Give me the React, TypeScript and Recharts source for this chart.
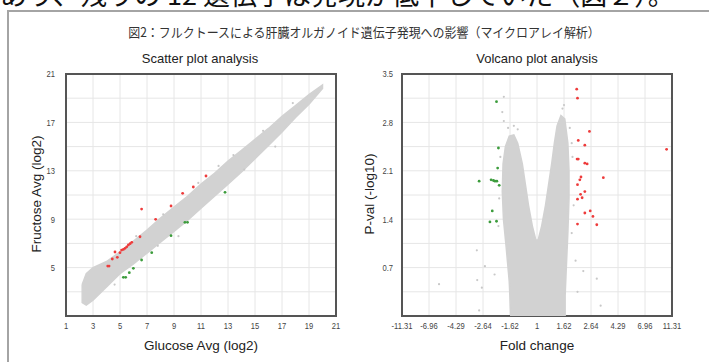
import React from "react";
import { ScatterChart, Scatter, XAxis, YAxis, CartesianGrid, ReferenceArea } from "recharts";

type Pt = { x: number; y: number };

// ---- scatter plot: Glucose Avg (log2) vs Fructose Avg (log2)
const scatterTicks = [1, 3, 5, 7, 9, 11, 13, 15, 17, 19, 21];
const scatterYLabels = [5, 9, 13, 17, 21];

// outline of the dense grey cloud (upper edge, then lower edge back)
const scatterCloud: Pt[] = [
  { x: 2.2, y: 3.6 }, { x: 2.5, y: 4.5 }, { x: 3, y: 5.0 }, { x: 3.6, y: 5.3 }, { x: 4, y: 5.5 },
  { x: 5, y: 6.3 }, { x: 6, y: 7.2 }, { x: 7, y: 8.1 }, { x: 8, y: 9.1 },
  { x: 9, y: 10.0 }, { x: 10, y: 10.9 }, { x: 11, y: 11.9 }, { x: 12, y: 12.8 },
  { x: 13, y: 13.8 }, { x: 14, y: 14.7 }, { x: 15, y: 15.6 }, { x: 16, y: 16.5 },
  { x: 17, y: 17.5 }, { x: 18, y: 18.4 }, { x: 19, y: 19.3 }, { x: 20, y: 20.1 },
  { x: 20, y: 19.8 }, { x: 19, y: 18.5 }, { x: 18, y: 17.4 }, { x: 17, y: 16.2 },
  { x: 16, y: 15.1 }, { x: 15, y: 14.0 }, { x: 14, y: 12.9 }, { x: 13, y: 11.9 },
  { x: 12, y: 10.9 }, { x: 11, y: 9.9 }, { x: 10, y: 8.9 }, { x: 9, y: 8.0 },
  { x: 8, y: 7.1 }, { x: 7, y: 6.2 }, { x: 6, y: 5.3 }, { x: 5, y: 4.5 },
  { x: 4, y: 3.4 }, { x: 3, y: 2.3 }, { x: 2.5, y: 1.9 }, { x: 2.2, y: 2.1 },
  { x: 2.2, y: 3.6 },
];
const scatterGray: Pt[] = [
  { x: 9.33, y: 7.6 }, { x: 16.5, y: 15.0 }, { x: 14.2, y: 13.1 }, { x: 12.3, y: 13.4 },
  { x: 10.8, y: 12.0 }, { x: 17.8, y: 18.6 }, { x: 15.6, y: 16.3 }, { x: 8.2, y: 9.4 },
  { x: 6.2, y: 7.6 }, { x: 4.6, y: 3.6 }, { x: 7.8, y: 6.8 }, { x: 13.4, y: 14.3 },
];
const scatterUp: Pt[] = [
  { x: 11.37, y: 12.57 }, { x: 10.43, y: 11.66 }, { x: 9.64, y: 11.14 }, { x: 8.78, y: 10.09 },
  { x: 6.6, y: 9.84 }, { x: 7.64, y: 8.99 }, { x: 6.48, y: 7.55 }, { x: 5.87, y: 7.09 },
  { x: 5.75, y: 6.98 }, { x: 5.62, y: 6.87 }, { x: 5.5, y: 6.72 }, { x: 5.37, y: 6.59 },
  { x: 5.25, y: 6.5 }, { x: 5.12, y: 6.45 }, { x: 4.63, y: 6.29 }, { x: 5.0, y: 6.23 },
  { x: 4.8, y: 5.85 }, { x: 4.43, y: 5.71 }, { x: 4.09, y: 5.13 }, { x: 4.19, y: 5.13 },
];
const scatterDown: Pt[] = [
  { x: 12.78, y: 11.22 }, { x: 9.81, y: 8.74 }, { x: 10.0, y: 8.74 }, { x: 8.78, y: 7.64 },
  { x: 7.35, y: 6.23 }, { x: 6.6, y: 5.63 }, { x: 5.99, y: 4.94 }, { x: 5.69, y: 4.58 },
  { x: 5.25, y: 4.2 }, { x: 5.42, y: 4.2 },
];

// ---- volcano plot: log2 fold change vs -log10 p
const foldTicks = [-3.5, -2.8, -2.1, -1.4, -0.7, 0, 0.7, 1.4, 2.1, 2.8, 3.5];
const foldLabels = ["-11.31", "-6.96", "-4.29", "-2.64", "-1.62", "1", "1.62", "2.64", "4.29", "6.96", "11.31"];
const pvalTicks = [0, 0.35, 0.7, 1.05, 1.4, 1.75, 2.1, 2.45, 2.8, 3.15, 3.5];
const pvalLabels = ["", "", "0.7", "", "1.4", "", "2.1", "", "2.8", "", "3.5"];

const volcanoCloud: Pt[] = [
  { x: -0.68, y: 0 }, { x: -0.72, y: 0.5 }, { x: -0.8, y: 1.0 }, { x: -0.87, y: 1.4 },
  { x: -0.9, y: 1.8 }, { x: -0.88, y: 2.2 }, { x: -0.82, y: 2.45 }, { x: -0.72, y: 2.6 },
  { x: -0.6, y: 2.62 }, { x: -0.5, y: 2.5 }, { x: -0.38, y: 2.2 }, { x: -0.3, y: 1.9 },
  { x: -0.22, y: 1.6 }, { x: -0.12, y: 1.3 }, { x: -0.03, y: 1.1 }, { x: 0.03, y: 1.1 },
  { x: 0.12, y: 1.3 }, { x: 0.22, y: 1.6 }, { x: 0.3, y: 1.9 }, { x: 0.38, y: 2.2 },
  { x: 0.45, y: 2.5 }, { x: 0.52, y: 2.75 }, { x: 0.62, y: 2.9 }, { x: 0.72, y: 2.85 },
  { x: 0.8, y: 2.5 }, { x: 0.83, y: 2.1 }, { x: 0.83, y: 1.7 }, { x: 0.8, y: 1.2 },
  { x: 0.76, y: 0.7 }, { x: 0.73, y: 0.3 }, { x: 0.73, y: 0 }, { x: -0.68, y: 0 },
];
const volcanoGray: Pt[] = [
  { x: -0.86, y: 3.17 }, { x: -0.9, y: 2.95 }, { x: -0.86, y: 2.82 }, { x: -0.75, y: 2.72 },
  { x: -0.6, y: 2.75 }, { x: 0.66, y: 3.0 }, { x: 0.7, y: 3.05 }, { x: 0.85, y: 2.72 },
  { x: 0.9, y: 2.5 }, { x: 0.92, y: 2.3 }, { x: 0.95, y: 1.6 }, { x: 0.9, y: 1.2 },
  { x: 1.0, y: 0.8 }, { x: -2.54, y: 0.46 }, { x: -1.56, y: 0.95 }, { x: -1.55, y: 0.52 },
  { x: -1.43, y: 0.41 }, { x: -1.35, y: 0.72 }, { x: 1.65, y: 0.15 }, { x: 1.55, y: 0.54 },
  { x: 1.2, y: 0.65 }, { x: -1.5, y: 0.08 }, { x: -1.0, y: 1.3 }, { x: -1.1, y: 0.6 },
  { x: 1.05, y: 0.35 }, { x: -0.95, y: 2.3 }, { x: -0.98, y: 1.7 }, { x: -0.5, y: 2.7 },
];
const volcanoUp: Pt[] = [
  { x: 1.03, y: 3.28 }, { x: 1.05, y: 3.15 }, { x: 1.36, y: 2.67 }, { x: 1.07, y: 2.54 },
  { x: 1.24, y: 2.47 }, { x: 3.36, y: 2.41 }, { x: 1.04, y: 2.27 }, { x: 1.07, y: 2.27 },
  { x: 1.24, y: 2.21 }, { x: 1.3, y: 2.2 }, { x: 1.14, y: 2.01 }, { x: 1.72, y: 2.0 },
  { x: 1.11, y: 1.97 }, { x: 1.05, y: 1.9 }, { x: 1.24, y: 1.8 }, { x: 1.13, y: 1.76 },
  { x: 1.17, y: 1.71 }, { x: 1.05, y: 1.69 }, { x: 1.38, y: 1.52 }, { x: 1.24, y: 1.49 },
  { x: 1.45, y: 1.44 }, { x: 1.55, y: 1.32 }, { x: 1.05, y: 1.33 },
];
const volcanoDown: Pt[] = [
  { x: -1.05, y: 3.1 }, { x: -1.0, y: 2.43 }, { x: -1.02, y: 2.14 }, { x: -1.5, y: 1.95 },
  { x: -1.19, y: 1.97 }, { x: -1.13, y: 1.96 }, { x: -1.09, y: 1.95 }, { x: -1.04, y: 1.95 },
  { x: -0.98, y: 1.89 }, { x: -1.16, y: 1.52 }, { x: -1.22, y: 1.36 }, { x: -1.05, y: 1.37 },
];

const CLOUD = "#d2d2d2";
const RED = "#ee3b3b";
const GREEN = "#3c9c3c";

const dot = (color: string, r: number) => (p: any) => <circle cx={p.cx} cy={p.cy} r={r} fill={color} />;
const noDot = () => <g />;

const xTick = (labels?: string[], ticks?: number[]) => (p: any) => {
  const v = p.payload.value;
  const i = ticks ? ticks.findIndex((t) => Math.abs(t - v) < 1e-6) : -1;
  const txt = labels && i >= 0 ? labels[i] : String(v);
  return (
    <g transform={`translate(${p.x},${p.y}) scale(0.8,1)`}>
      <text x={0} y={0} dy="0.71em" textAnchor="middle" fontSize={9.5} fill="#444">{txt}</text>
    </g>
  );
};

const yTick = (show: (v: number) => string) => (p: any) => {
  const txt = show(p.payload.value);
  if (!txt) return <g />;
  return (
    <g transform={`translate(${p.x},${p.y}) scale(0.8,1)`}>
      <text x={0} y={0} dy="0.355em" textAnchor="end" fontSize={9.5} fill="#444">{txt}</text>
    </g>
  );
};

const abs = (extra: React.CSSProperties): React.CSSProperties => ({ position: "absolute", whiteSpace: "nowrap", ...extra });

export default function App() {
  return (
    <div style={{ position: "absolute", left: 0, top: 0, width: 709, height: 362, overflow: "hidden", background: "#fff", fontFamily: "'Liberation Sans', Arial, sans-serif", color: "#222" }}>
      <div style={abs({ left: 0, top: -20, fontSize: 27, lineHeight: "27px", fontFamily: "'Noto Sans CJK JP'", color: "#111" })}>
        あり、残りの 12 遺伝子は発現が低下していた（図２）。
      </div>
      <div style={abs({ left: 7, top: 10, width: 800, height: 500, borderLeft: "2px solid #a4a4a4", borderTop: "2px solid #a4a4a4" })} />
      <div style={abs({ left: 364, top: 31, transform: "translate(-50%,-50%) scaleX(0.92)", fontSize: 13, fontFamily: "'Noto Sans CJK JP'", color: "#333" })}>
        図2：フルクトースによる肝臓オルガノイド遺伝子発現への影響（マイクロアレイ解析）
      </div>

      <div style={abs({ left: 200, top: 58, transform: "translate(-50%,-50%)", fontSize: 13 })}>Scatter plot analysis</div>
      <div style={abs({ left: 537, top: 58, transform: "translate(-50%,-50%)", fontSize: 13 })}>Volcano plot analysis</div>
      <div style={abs({ left: 201, top: 345, transform: "translate(-50%,-50%)", fontSize: 13.5 })}>Glucose Avg (log2)</div>
      <div style={abs({ left: 537, top: 345, transform: "translate(-50%,-50%)", fontSize: 13.5 })}>Fold change</div>
      <div style={abs({ left: 36, top: 194, transform: "translate(-50%,-50%) rotate(-90deg)", fontSize: 13.5 })}>Fructose Avg (log2)</div>
      <div style={abs({ left: 369, top: 194, transform: "translate(-50%,-50%) rotate(-90deg)", fontSize: 13.5 })}>P-val (-log10)</div>

      <div style={abs({ left: 0, top: 0 })}>
        <ScatterChart width={360} height={362} margin={{ top: 74, right: 24, bottom: 26, left: 46 }}>
          <CartesianGrid stroke="#e6e6e6" />
          <XAxis type="number" dataKey="x" domain={[1, 21]} ticks={scatterTicks} interval={0} height={20} axisLine={false} tickLine={false} tickSize={4} tickMargin={2} tick={xTick()} allowDataOverflow />
          <YAxis type="number" dataKey="y" domain={[1, 21]} ticks={scatterTicks} interval={0} width={20} axisLine={false} tickLine={false} tickSize={6} tickMargin={5} tick={yTick((v) => (scatterYLabels.includes(v) ? String(v) : ""))} allowDataOverflow />
          <Scatter data={scatterCloud} shape={noDot} line={{ fill: CLOUD, stroke: CLOUD, strokeWidth: 1.5 }} isAnimationActive={false} />
          <Scatter data={scatterGray} shape={dot("#c8c8c8", 1.1)} isAnimationActive={false} />
          <Scatter data={scatterUp} shape={dot(RED, 1.4)} isAnimationActive={false} />
          <Scatter data={scatterDown} shape={dot(GREEN, 1.4)} isAnimationActive={false} />
          <ReferenceArea x1={1} x2={21} y1={1} y2={21} fill="none" stroke="#555" strokeWidth={2} ifOverflow="visible" />
        </ScatterChart>
      </div>

      <div style={abs({ left: 355, top: 0 })}>
        <ScatterChart width={354} height={362} margin={{ top: 74, right: 37, bottom: 26, left: 27 }}>
          <CartesianGrid stroke="#e6e6e6" />
          <XAxis type="number" dataKey="x" domain={[-3.5, 3.5]} ticks={foldTicks} interval={0} height={20} axisLine={false} tickLine={false} tickSize={4} tickMargin={2} tick={xTick(foldLabels, foldTicks)} allowDataOverflow />
          <YAxis type="number" dataKey="y" domain={[0, 3.5]} ticks={pvalTicks} interval={0} width={20} axisLine={false} tickLine={false} tickSize={6} tickMargin={3} tick={yTick((v) => { const i = pvalTicks.findIndex((t) => Math.abs(t - v) < 1e-6); return i >= 0 ? pvalLabels[i] : ""; })} allowDataOverflow />
          <Scatter data={volcanoCloud} shape={noDot} line={{ fill: CLOUD, stroke: CLOUD, strokeWidth: 1.5 }} isAnimationActive={false} />
          <Scatter data={volcanoGray} shape={dot("#c8c8c8", 1.1)} isAnimationActive={false} />
          <Scatter data={volcanoUp} shape={dot(RED, 1.4)} isAnimationActive={false} />
          <Scatter data={volcanoDown} shape={dot(GREEN, 1.4)} isAnimationActive={false} />
          <ReferenceArea x1={-3.5} x2={3.5} y1={0} y2={3.5} fill="none" stroke="#555" strokeWidth={2} ifOverflow="visible" />
        </ScatterChart>
      </div>
    </div>
  );
}
